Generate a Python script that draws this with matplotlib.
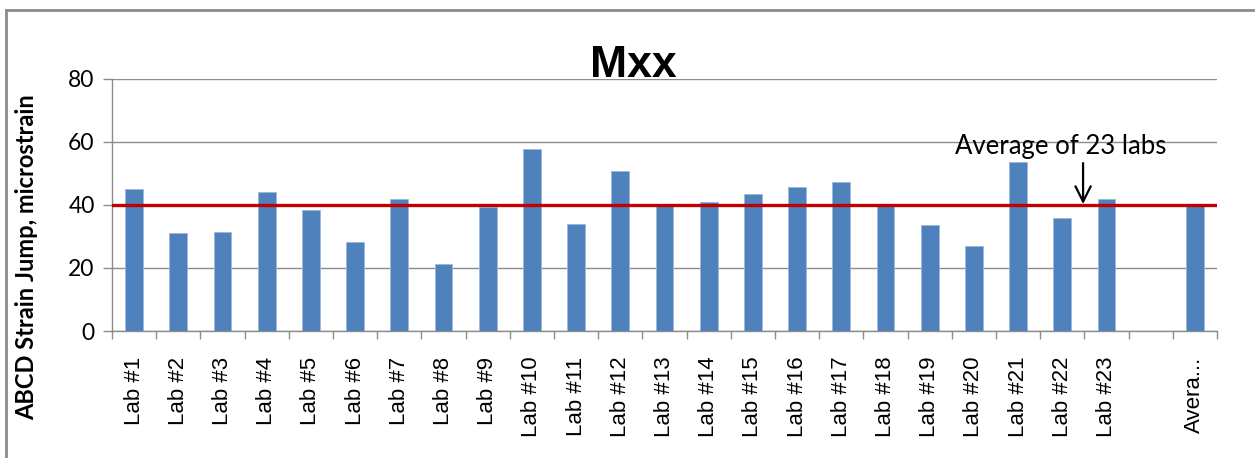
import matplotlib
matplotlib.use("Agg")
import matplotlib.pyplot as plt
from matplotlib.lines import Line2D
import numpy as np

categories = ["Lab #%d" % i for i in range(1, 24)] + ["", "Avera..."]
values = [45.0, 31.0, 31.5, 44.2, 38.5, 28.3, 41.8, 21.4, 39.4, 57.7,
          34.0, 50.8, 40.1, 41.0, 43.4, 45.8, 47.4, 40.0, 33.5, 27.0,
          53.6, 36.0, 42.0, np.nan, 40.0]
average_value = 40.0
yticks = [0, 20, 40, 60, 80]
title = "Mxx"
ylabel = "ABCD Strain Jump, microstrain"
annotation = "Average of 23 labs"

W, H = 1255, 458
fig = plt.figure(figsize=(W / 100, H / 100), dpi=100)
ax = fig.add_axes([112 / W, 1 - 331 / H, (1217 - 112) / W, (331 - 79) / H])

x = np.arange(len(categories))
ax.bar(x, values, width=0.4, color="#4F81BD", edgecolor="#9DB7DA",
       linewidth=0.6, zorder=3)
ax.axhline(average_value, color="#C00000", linewidth=2.4, zorder=4)

ax.set_xlim(-0.5, len(categories) - 0.5)
ax.set_ylim(0, 80)
ax.set_yticks(yticks)
ax.set_yticklabels([str(v) for v in yticks], fontsize=16.5, family="Lato")
ax.grid(axis="y", color="#8C8C8C", linewidth=1.0, zorder=0)
ax.set_axisbelow(True)

ax.set_xticks(x)
ax.set_xticklabels(categories, rotation=90, fontsize=16,
                   family="Liberation Sans")
ax.set_xticks(np.arange(-0.5, len(categories), 1.0), minor=True)
ax.tick_params(axis="x", which="major", length=0, pad=18.5)
ax.tick_params(axis="x", which="minor", length=6, color="#8C8C8C", width=1.0)
ax.tick_params(axis="y", length=6.5, color="#8C8C8C", width=1.0, pad=6)

for s in ["top", "right"]:
    ax.spines[s].set_visible(False)
for s in ["left", "bottom"]:
    ax.spines[s].set_color("#8C8C8C")
    ax.spines[s].set_linewidth(1.0)

fig.text(633.5 / W, 1 - 77 / H, title, ha="center", va="baseline",
         fontsize=32, weight="bold", family="Liberation Sans")
fig.text(27 / W, 1 - 257 / H, ylabel, ha="center", va="center",
         rotation=90, fontsize=17, weight="bold", family="Lato")

ax.annotate("", xy=(21.47, 40.3), xytext=(21.47, 53.3),
            arrowprops=dict(arrowstyle="->,head_length=1.1,head_width=0.55",
                            color="black", lw=1.6, shrinkA=0, shrinkB=0),
            zorder=5)
ax.text(20.97, 56.2, annotation, ha="center", va="baseline",
        fontsize=18.5, family="Lato", zorder=5)

# chart-area border
fig.add_artist(Line2D([6 / W, 1.0], [1 - 10 / H, 1 - 10 / H],
                      transform=fig.transFigure, color="#8C8C8C", lw=2))
fig.add_artist(Line2D([6 / W, 6 / W], [1 - 10 / H, 0.0],
                      transform=fig.transFigure, color="#8C8C8C", lw=2))

fig.savefig("out.png", dpi=100)
